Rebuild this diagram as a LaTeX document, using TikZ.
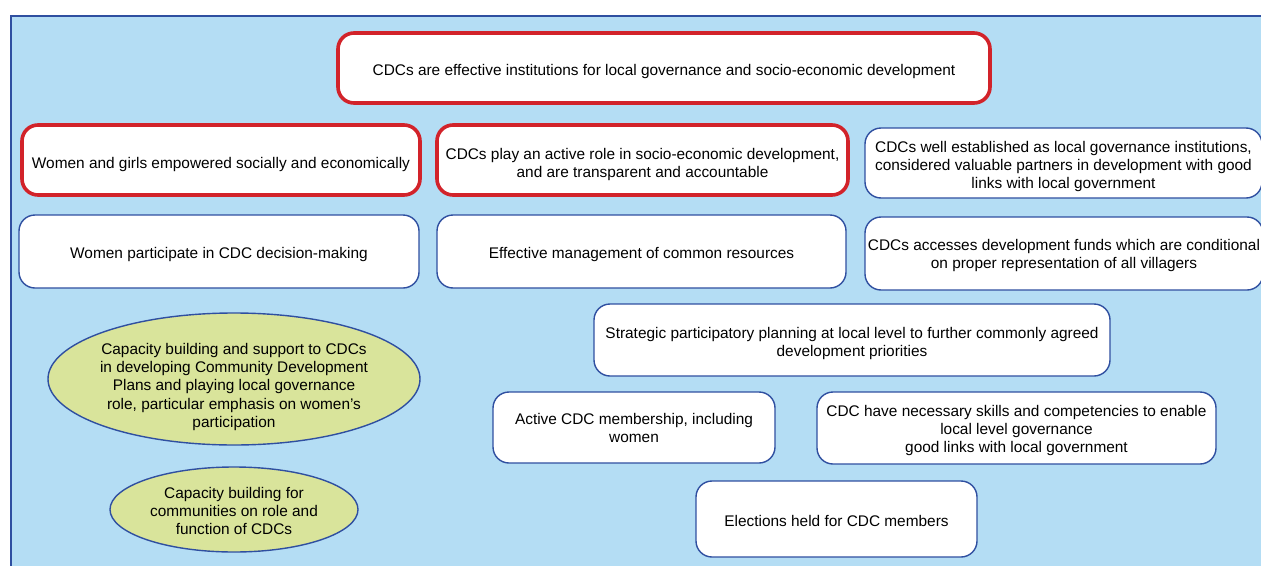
\documentclass[tikz,border=0pt]{standalone}
\usepackage{fontspec}
\setmainfont{Liberation Sans}
\usepackage{tikz}
\usetikzlibrary{shapes.geometric}
\definecolor{skyfill}{RGB}{180,221,244}
\definecolor{frameblue}{RGB}{47,79,160}
\definecolor{boxred}{RGB}{210,35,42}
\definecolor{olivefill}{RGB}{217,228,155}
\newcommand{\dropby}[1]{\rule{0pt}{#1}}
\tikzset{
  res_box/.style = {rectangle, draw=frameblue, fill=white, rounded corners=16pt, line width=1.4pt, align=center, inner sep=0pt, font=\fontsize{15.4}{18}\selectfont},
  goal_box/.style = {res_box, draw=boxred, line width=3.6pt},
  act_ell/.style = {ellipse, draw=frameblue, fill=olivefill, line width=1.4pt, align=center, inner sep=-9pt, font=\fontsize{15.4}{18.4}\selectfont}
}

\begin{document}
\begin{tikzpicture}[x=1pt, y=-1pt]
    \useasboundingbox (0,0) rectangle (1261,565);
    \draw[fill=skyfill, draw=frameblue, line width=2.5pt] (11,16) rectangle (1280,590);
    \node[goal_box, minimum width=652pt, minimum height=70pt] (goal) at (664,68)
        {\dropby{19pt}CDCs are effective institutions for local governance and socio-economic development};
    \node[goal_box, minimum width=398pt, minimum height=70pt] (women) at (221,160)
        {\dropby{20pt}Women and girls empowered socially and economically};
    \node[goal_box, minimum width=411pt, minimum height=70pt] (active) at (642.5,160)
        {\dropby{20pt}CDCs play an active role in socio-economic development,\\and are transparent and accountable};
    \node[res_box, minimum width=397pt, minimum height=70pt] (established) at (1063.5,163)
        {\dropby{17.5pt}CDCs well established as local governance institutions,\\considered valuable partners in development with good\\links with local government};
    \node[res_box, minimum width=400pt, minimum height=73pt] (decision) at (219,251.5)
        {\dropby{17.5pt}Women participate in CDC decision-making};
    \node[res_box, minimum width=409pt, minimum height=73pt] (resources) at (641.5,251.5)
        {\dropby{17.5pt}Effective management of common resources};
    \node[res_box, minimum width=398pt, minimum height=73pt] (funds) at (1064,253.5)
        {\dropby{16pt}CDCs accesses development funds which are conditional\\on proper representation of all villagers};
    \node[res_box, minimum width=516pt, minimum height=72pt] (planning) at (852,340)
        {\dropby{18pt}Strategic participatory planning at local level to further commonly agreed\\development priorities};
    \node[res_box, minimum width=282pt, minimum height=71pt] (membership) at (634,427.5)
        {\dropby{13pt}Active CDC membership, including\\women};
    \node[res_box, minimum width=399pt, minimum height=72pt] (skills) at (1016.5,428)
        {\dropby{16pt}CDC have necessary skills and competencies to enable\\local level governance\\good links with local government};
    \node[res_box, minimum width=281pt, minimum height=76pt] (elections) at (836.5,519)
        {\dropby{15pt}Elections held for CDC members};
    \node[act_ell, minimum width=372pt, minimum height=132pt] (support) at (234,379)
        {\dropby{27pt}Capacity building and support to CDCs\\in developing Community Development\\Plans and playing local governance\\role, particular emphasis on women's\\participation};
    \node[act_ell, minimum width=248pt, minimum height=85pt] (training) at (234,509.5)
        {\dropby{14pt}Capacity building for\\communities on role and\\function of CDCs};
\end{tikzpicture}
\end{document}
